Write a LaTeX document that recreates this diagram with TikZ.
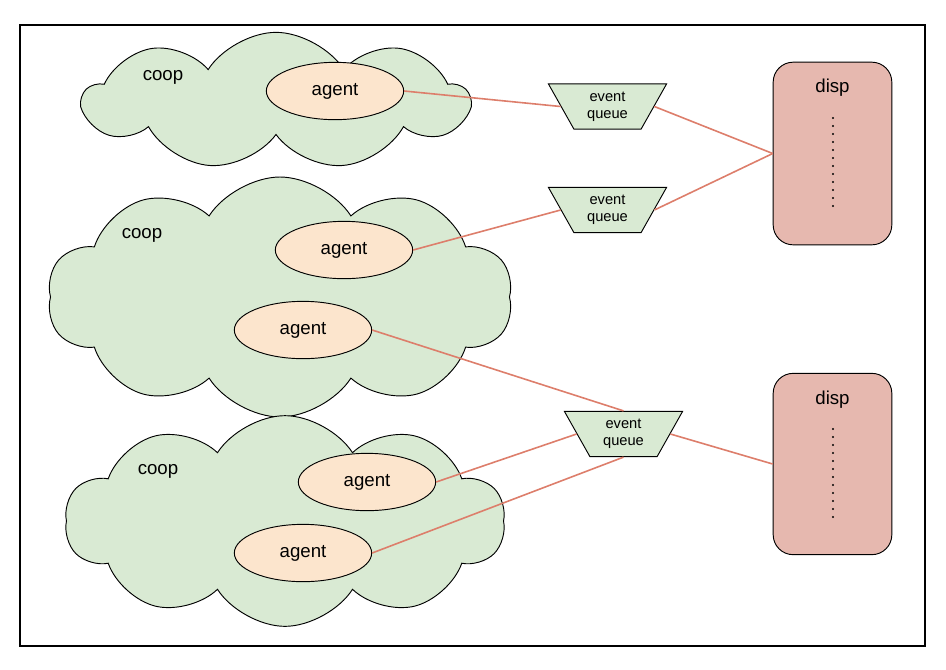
\documentclass[tikz,border=0pt]{standalone}
\usepackage{fontspec}
\setmainfont{Liberation Sans}
\usetikzlibrary{shapes.symbols,shapes.geometric}
\definecolor{coopgreen}{HTML}{D9EAD3}
\definecolor{agentpeach}{HTML}{FCE5CD}
\definecolor{disppink}{HTML}{E6B8AF}
\definecolor{linkred}{HTML}{DD7E6B}

\begin{document}
\begin{tikzpicture}[x=0.75pt,y=-0.75pt,
  coop/.style={cloud, cloud puffs=9, cloud puff arc=115, draw, fill=coopgreen, line width=0.7pt},
  agent/.style={ellipse, draw, fill=agentpeach, minimum width=103pt, minimum height=43pt,
    font=\fontsize{14}{16}\selectfont, line width=0.7pt},
  queue/.style={trapezium, trapezium stretches=true, shape border rotate=180, trapezium angle=62,
    draw, fill=coopgreen, minimum width=89pt, minimum height=34pt, inner sep=0pt, align=center,
    font=\fontsize{11}{12.5}\selectfont, line width=0.7pt},
  disp/.style={rectangle, rounded corners=15pt, draw, fill=disppink, minimum width=89pt, line width=0.7pt},
  boxtext/.style={font=\fontsize{14}{16}\selectfont},
  link/.style={draw=linkred, line width=1.2pt}]
  \useasboundingbox (0,0) rectangle (946,669);
  \draw[line width=1.5pt] (20,25) rectangle (925,646);

  \node[coop, minimum width=289pt, minimum height=103pt] (c1) at (276,101) {};
  \node[coop, cloud puffs=10, minimum width=349pt, minimum height=180pt] (c2) at (280,297) {};
  \node[coop, cloud puffs=10, minimum width=330pt, minimum height=158pt] (c3) at (285,521) {};
  \node[boxtext] (c1t) at (163,77) {coop};
  \node[boxtext] (c2t) at (142,235) {coop};
  \node[boxtext] (c3t) at (158,471) {coop};

  \node[agent] (a1) at (335,91) {agent};
  \node[agent] (a2) at (344,250) {agent};
  \node[agent] (a3) at (303,330) {agent};
  \node[agent] (a4) at (367,482) {agent};
  \node[agent] (a5) at (303,553) {agent};

  \node[queue] (q1) at (607.5,106.5) {event\\queue};
  \node[queue] (q2) at (607.5,210) {event\\queue};
  \node[queue] (q3) at (623.5,434) {event\\queue};

  \node[disp, minimum height=137pt] (d1) at (832.5,153.5) {};
  \node[disp, minimum height=136pt] (d2) at (832.5,464) {};
  \node[boxtext] (d1t) at (832.5,88) {disp};
  \node[boxtext] (d2t) at (832.5,400) {disp};
  \foreach \k in {0,...,11} {
    \fill (833,118+8*\k) circle (0.8pt);
    \fill (833,429+8*\k) circle (0.8pt);
  }

  \draw[link] (a1.east) -- (q1.180);
  \draw[link] (q1.0) -- (d1.west);
  \draw[link] (a2.east) -- (q2.180);
  \draw[link] (q2.0) -- (d1.west);
  \draw[link] (a3.east) -- (q3.north);
  \draw[link] (a4.east) -- (q3.180);
  \draw[link] (a5.east) -- (q3.south);
  \draw[link] (q3.0) -- (d2.west);
\end{tikzpicture}
\end{document}
